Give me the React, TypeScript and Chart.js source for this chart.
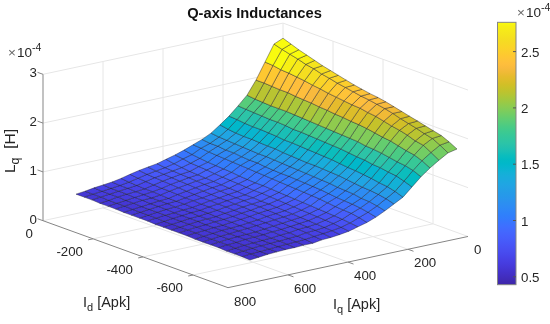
import React, { useEffect, useRef } from "react";
import { Chart, registerables } from "chart.js";

Chart.register(...registerables);

const TITLE = "Q-axis Inductances";
const iqValues = [0,30,60,90,120,150,180,210,240,270,300,330,360,390,420,450,480,510,540,570,600,630,660,690];
const idValues = [0,-32,-63,-95,-127,-158,-190,-221,-253,-285,-316,-348,-380,-411,-443,-475,-506,-538,-569,-601,-633,-664,-696];
// Lq x 1e-4 H; one row per Iq value, one column per Id value
const lqRows = [
[2.69,2.63,2.57,2.52,2.47,2.42,2.38,2.34,2.30,2.26,2.23,2.20,2.18,2.15,2.11,2.07,2.03,1.99,1.95,1.91,1.87,1.80,1.71],
[2.61,2.56,2.52,2.48,2.43,2.40,2.35,2.32,2.28,2.25,2.22,2.19,2.17,2.14,2.11,2.07,2.02,1.98,1.94,1.89,1.85,1.77,1.67],
[2.28,2.27,2.24,2.23,2.21,2.19,2.16,2.14,2.11,2.09,2.07,2.05,2.04,2.01,1.99,1.95,1.91,1.88,1.84,1.78,1.75,1.66,1.56],
[1.95,1.95,1.94,1.93,1.93,1.91,1.90,1.89,1.87,1.86,1.84,1.83,1.81,1.80,1.78,1.75,1.72,1.70,1.66,1.62,1.59,1.53,1.44],
[1.68,1.66,1.65,1.64,1.64,1.64,1.63,1.62,1.61,1.60,1.59,1.58,1.57,1.56,1.55,1.52,1.51,1.49,1.46,1.43,1.41,1.37,1.30],
[1.50,1.49,1.48,1.47,1.46,1.46,1.45,1.43,1.43,1.42,1.41,1.40,1.39,1.38,1.36,1.34,1.33,1.30,1.29,1.26,1.24,1.19,1.13],
[1.33,1.32,1.30,1.29,1.29,1.28,1.27,1.25,1.25,1.24,1.23,1.22,1.21,1.20,1.18,1.16,1.15,1.13,1.11,1.08,1.06,1.02,0.96],
[1.19,1.16,1.14,1.13,1.13,1.12,1.11,1.11,1.09,1.08,1.07,1.06,1.06,1.05,1.04,1.03,1.01,0.99,0.97,0.96,0.94,0.91,0.86],
[1.06,1.04,1.03,1.02,1.01,1.00,0.99,0.99,0.98,0.97,0.96,0.95,0.94,0.93,0.92,0.91,0.89,0.88,0.87,0.84,0.83,0.80,0.76],
[0.97,0.95,0.95,0.93,0.93,0.91,0.90,0.90,0.88,0.87,0.86,0.86,0.85,0.84,0.83,0.82,0.80,0.78,0.77,0.76,0.74,0.71,0.67],
[0.90,0.89,0.87,0.86,0.85,0.84,0.83,0.82,0.81,0.80,0.79,0.78,0.77,0.76,0.75,0.74,0.73,0.71,0.69,0.68,0.67,0.64,0.60],
[0.83,0.80,0.78,0.76,0.75,0.74,0.73,0.71,0.70,0.69,0.69,0.68,0.67,0.66,0.65,0.64,0.63,0.62,0.61,0.60,0.59,0.57,0.55],
[0.77,0.75,0.72,0.71,0.70,0.68,0.67,0.66,0.65,0.64,0.63,0.63,0.62,0.61,0.60,0.59,0.58,0.57,0.56,0.55,0.54,0.52,0.50],
[0.72,0.69,0.67,0.65,0.64,0.63,0.62,0.61,0.60,0.59,0.58,0.58,0.57,0.57,0.56,0.55,0.54,0.53,0.52,0.51,0.50,0.49,0.47],
[0.67,0.65,0.64,0.63,0.62,0.61,0.60,0.59,0.58,0.57,0.56,0.56,0.55,0.55,0.54,0.53,0.52,0.51,0.50,0.49,0.48,0.47,0.45],
[0.64,0.62,0.61,0.60,0.59,0.58,0.57,0.56,0.55,0.54,0.54,0.53,0.53,0.52,0.52,0.51,0.50,0.49,0.48,0.48,0.47,0.45,0.44],
[0.61,0.59,0.58,0.57,0.56,0.55,0.54,0.53,0.52,0.52,0.51,0.51,0.50,0.50,0.49,0.48,0.48,0.47,0.46,0.45,0.44,0.43,0.41],
[0.57,0.55,0.54,0.53,0.52,0.52,0.51,0.50,0.50,0.49,0.49,0.48,0.48,0.47,0.47,0.46,0.46,0.45,0.45,0.44,0.43,0.42,0.41],
[0.525,0.51,0.50,0.49,0.49,0.48,0.47,0.47,0.47,0.46,0.46,0.46,0.45,0.45,0.45,0.44,0.44,0.43,0.43,0.42,0.42,0.41,0.40],
[0.49,0.48,0.48,0.47,0.47,0.46,0.46,0.46,0.45,0.45,0.45,0.44,0.44,0.44,0.43,0.43,0.43,0.42,0.42,0.41,0.41,0.40,0.40],
[0.47,0.46,0.46,0.46,0.45,0.45,0.44,0.44,0.44,0.43,0.43,0.43,0.43,0.42,0.42,0.42,0.41,0.41,0.41,0.40,0.40,0.39,0.39],
[0.45,0.44,0.44,0.44,0.43,0.43,0.42,0.42,0.42,0.42,0.41,0.41,0.41,0.41,0.40,0.40,0.40,0.40,0.39,0.39,0.39,0.38,0.38],
[0.42,0.42,0.42,0.41,0.41,0.41,0.40,0.40,0.40,0.40,0.39,0.39,0.39,0.39,0.39,0.38,0.38,0.38,0.38,0.37,0.37,0.37,0.36],
[0.40,0.40,0.40,0.39,0.39,0.39,0.38,0.38,0.38,0.38,0.37,0.37,0.37,0.37,0.37,0.36,0.36,0.36,0.36,0.35,0.35,0.35,0.34],
];
const iqTicks = [0, 200, 400, 600, 800];
const idTicks = [0, -200, -400, -600];
const lqTicks = [0, 1, 2, 3];
const colorbarTicks = [0.5, 1, 1.5, 2, 2.5];
const iqMax = 800;
const idMin = -740;
const lqMax = 3;
const surfaceColorLimits = [0.25, 2.58];
const colorbarLimits = [0.43, 2.76];
const parula: number[][] = [
[.2422,.1504,.6603],[.2504,.165,.7076],[.2578,.1818,.7511],[.2647,.1978,.7952],[.2706,.2147,.8364],[.2751,.2342,.871],[.2783,.2559,.8991],[.2803,.2782,.9221],
[.2813,.3006,.9414],[.281,.3228,.9579],[.2795,.3447,.9717],[.276,.3667,.9829],[.2699,.3892,.9906],[.2602,.4123,.9952],[.244,.4358,.9988],[.2206,.4603,.9973],
[.1963,.4847,.9892],[.1834,.5074,.9798],[.1786,.5289,.9682],[.1764,.5499,.952],[.1687,.5703,.9359],[.154,.5902,.9218],[.146,.6091,.9079],[.138,.6276,.8973],
[.1248,.6459,.8883],[.1113,.6635,.8763],[.0952,.6798,.8598],[.0689,.6948,.8394],[.0297,.7082,.8163],[.0036,.7203,.7917],[.0067,.7312,.766],[.0433,.7411,.7394],
[.0964,.75,.712],[.1408,.7584,.6842],[.1717,.767,.6554],[.1938,.7758,.6251],[.2161,.7843,.5923],[.247,.7918,.5567],[.2906,.7973,.5188],[.3406,.8008,.4789],
[.3909,.8029,.4354],[.4456,.8024,.3909],[.5044,.7993,.348],[.5616,.7942,.3045],[.6174,.7876,.2612],[.672,.7793,.2227],[.7242,.7698,.191],[.7738,.7598,.1646],
[.8203,.7498,.1535],[.8634,.7406,.1596],[.9035,.733,.1774],[.9393,.7288,.21],[.9728,.7298,.2394],[.9956,.7434,.2371],[.997,.7659,.2199],[.9952,.7861,.1939],
[.9892,.8081,.1714],[.9786,.8296,.1528],[.9676,.8513,.1398],[.961,.8705,.1265],[.9597,.8949,.1131],[.9628,.9147,.1],[.9691,.9385,.08],[.9763,.9831,.0538],
];

const FONT = '"Liberation Sans", Arial, sans-serif';
const TEXT = "#262626";
const GRID = "#e6e6e6";
const AXIS = "#858585";

const project = (iq: number, id: number, lq: number) => ({
  x: 283 - 0.3 * iq - 0.25 * id,
  y: 169.5 + 0.064 * iq - 0.0905 * id - 48.8 * lq,
});

const css = (c: number[]) => `rgb(${Math.round(c[0] * 255)},${Math.round(c[1] * 255)},${Math.round(c[2] * 255)})`;
const surfaceColor = (v: number) => {
  const f = (v - surfaceColorLimits[0]) / (surfaceColorLimits[1] - surfaceColorLimits[0]);
  const k = Math.max(0, Math.min(parula.length - 1, Math.floor(f * parula.length)));
  return css(parula[k]);
};

const line = (pts: { x: number; y: number }[], color: string, width = 1) => ({
  type: "scatter" as const,
  data: pts,
  showLine: true,
  fill: false,
  borderColor: color,
  borderWidth: width,
  pointRadius: 0,
  tension: 0,
});

function buildDatasets() {
  const sets: any[] = [];
  for (let i = 0; i < iqValues.length - 1; i++) {
    for (let j = 0; j < idValues.length - 1; j++) {
      const c = surfaceColor(lqRows[i][j]);
      const pts = [
        project(iqValues[i], idValues[j], lqRows[i][j]),
        project(iqValues[i + 1], idValues[j], lqRows[i + 1][j]),
        project(iqValues[i + 1], idValues[j + 1], lqRows[i + 1][j + 1]),
        project(iqValues[i], idValues[j + 1], lqRows[i][j + 1]),
        project(iqValues[i], idValues[j], lqRows[i][j]),
      ];
      sets.push({
        type: "scatter",
        data: pts,
        showLine: true,
        fill: "shape",
        backgroundColor: c,
        borderColor: "rgba(25,25,40,0.7)",
        borderWidth: 0.6,
        pointRadius: 0,
        tension: 0,
      });
    }
  }
  // axis rulers
  sets.push(line([project(iqMax, 0, 0), project(iqMax, 0, lqMax)], AXIS));
  sets.push(line([project(iqMax, 0, 0), project(iqMax, idMin, 0)], AXIS));
  sets.push(line([project(iqMax, idMin, 0), project(0, idMin, 0)], AXIS));
  for (const t of lqTicks) sets.push(line([project(iqMax, 0, t), project(iqMax, 22, t)], AXIS));
  for (const t of idTicks.slice(1)) sets.push(line([project(iqMax, t, 0), project(iqMax + 16, t, 0)], AXIS));
  for (const t of iqTicks.slice(1, 4)) sets.push(line([project(t, idMin, 0), project(t, idMin - 22, 0)], AXIS));
  // box grid
  for (const t of lqTicks) sets.push(line([project(iqMax, 0, t), project(0, 0, t), project(0, idMin, t)], GRID));
  for (const t of iqTicks.slice(1, 4)) sets.push(line([project(t, idMin, 0), project(t, 0, 0), project(t, 0, lqMax)], GRID));
  for (const t of idTicks.slice(1)) sets.push(line([project(iqMax, t, 0), project(0, t, 0), project(0, t, lqMax)], GRID));
  sets.push(line([project(0, 0, 0), project(0, 0, lqMax)], GRID));
  return sets;
}

function runs(ctx: CanvasRenderingContext2D, x: number, y: number, parts: [string, number, number][]) {
  let cx = x;
  for (const [s, size, dy] of parts) {
    ctx.font = `${size}px ${FONT}`;
    ctx.fillText(s, cx, y + dy);
    cx += ctx.measureText(s).width;
  }
  return cx;
}

const annotate = {
  id: "annotate",
  afterDraw(chart: any) {
    const ctx: CanvasRenderingContext2D = chart.ctx;
    const xs = chart.scales.x;
    const ys = chart.scales.y;
    const px = (p: { x: number; y: number }) => ({ x: xs.getPixelForValue(p.x), y: ys.getPixelForValue(p.y) });
    ctx.save();
    ctx.fillStyle = TEXT;
    ctx.textBaseline = "alphabetic";

    ctx.textAlign = "center";
    ctx.font = `bold 14.7px ${FONT}`;
    ctx.fillStyle = "#111";
    ctx.fillText(TITLE, 254.5, 18);
    ctx.fillStyle = TEXT;

    ctx.font = `13.3px ${FONT}`;
    ctx.textAlign = "right";
    for (const t of lqTicks) {
      const p = px(project(iqMax, 0, t));
      ctx.fillText(String(t), 37, p.y + 3);
    }
    for (const t of idTicks) {
      const p = px(project(iqMax, t, 0));
      ctx.fillText(String(t), p.x - 10, p.y + 17);
    }
    ctx.textAlign = "left";
    for (const t of iqTicks) {
      const p = px(project(t, idMin, 0));
      ctx.fillText(String(t), p.x + 6, p.y + 18);
    }

    // exponent labels
    const exp = (x: number, y: number) => {
      ctx.fillStyle = "#666";
      ctx.font = `13.5px ${FONT}`;
      ctx.fillText("×", x, y);
      ctx.fillStyle = TEXT;
      runs(ctx, x + 9, y, [["10", 13.5, 0], ["-4", 10.5, -6]]);
    };
    exp(8, 57);
    exp(517, 17);

    // axis titles
    runs(ctx, 83, 307, [["I", 14.5, 0], ["d", 11, 4], [" [Apk]", 14.5, 0]]);
    runs(ctx, 333, 309, [["I", 14.5, 0], ["q", 11, 4], [" [Apk]", 14.5, 0]]);
    ctx.save();
    ctx.translate(15, 173);
    ctx.rotate(-Math.PI / 2);
    runs(ctx, 0, 0, [["L", 15.5, 0], ["q", 12.5, 4], ["  [H]", 15.5, 0]]);
    ctx.restore();

    // colorbar
    const barY = (v: number) => 220.5 - (v - 1) * 112.6;
    const top = barY(colorbarLimits[1]);
    const bottom = barY(colorbarLimits[0]);
    const grad = ctx.createLinearGradient(0, bottom, 0, top);
    parula.forEach((c, k) => grad.addColorStop(k / (parula.length - 1), css(c)));
    ctx.fillStyle = grad;
    ctx.fillRect(498, top, 18, bottom - top);
    ctx.strokeStyle = AXIS;
    ctx.lineWidth = 1;
    ctx.strokeRect(497.5, top, 18.5, bottom - top);
    ctx.fillStyle = TEXT;
    ctx.font = `13.3px ${FONT}`;
    ctx.textAlign = "left";
    for (const v of colorbarTicks) {
      ctx.beginPath();
      ctx.moveTo(513, barY(v));
      ctx.lineTo(516, barY(v));
      ctx.strokeStyle = "#555";
      ctx.stroke();
      ctx.fillText(String(v), 521, barY(v) + 5);
    }
    ctx.restore();
  },
};

export default function App() {
  const ref = useRef<HTMLCanvasElement>(null);
  useEffect(() => {
    document.body.style.margin = "0";
    const chart = new Chart(ref.current as HTMLCanvasElement, {
      type: "scatter",
      data: { datasets: buildDatasets() },
      options: {
        animation: false,
        responsive: false,
        events: [],
        layout: { padding: 0 },
        plugins: { legend: { display: false }, tooltip: { enabled: false }, title: { display: false } },
        scales: {
          x: { type: "linear", min: 0, max: 550, display: false },
          y: { type: "linear", min: 0, max: 324, reverse: true, display: false },
        },
      },
      plugins: [annotate],
    } as any);
    return () => chart.destroy();
  }, []);
  return <canvas ref={ref} width={550} height={324} style={{ display: "block" }} />;
}
